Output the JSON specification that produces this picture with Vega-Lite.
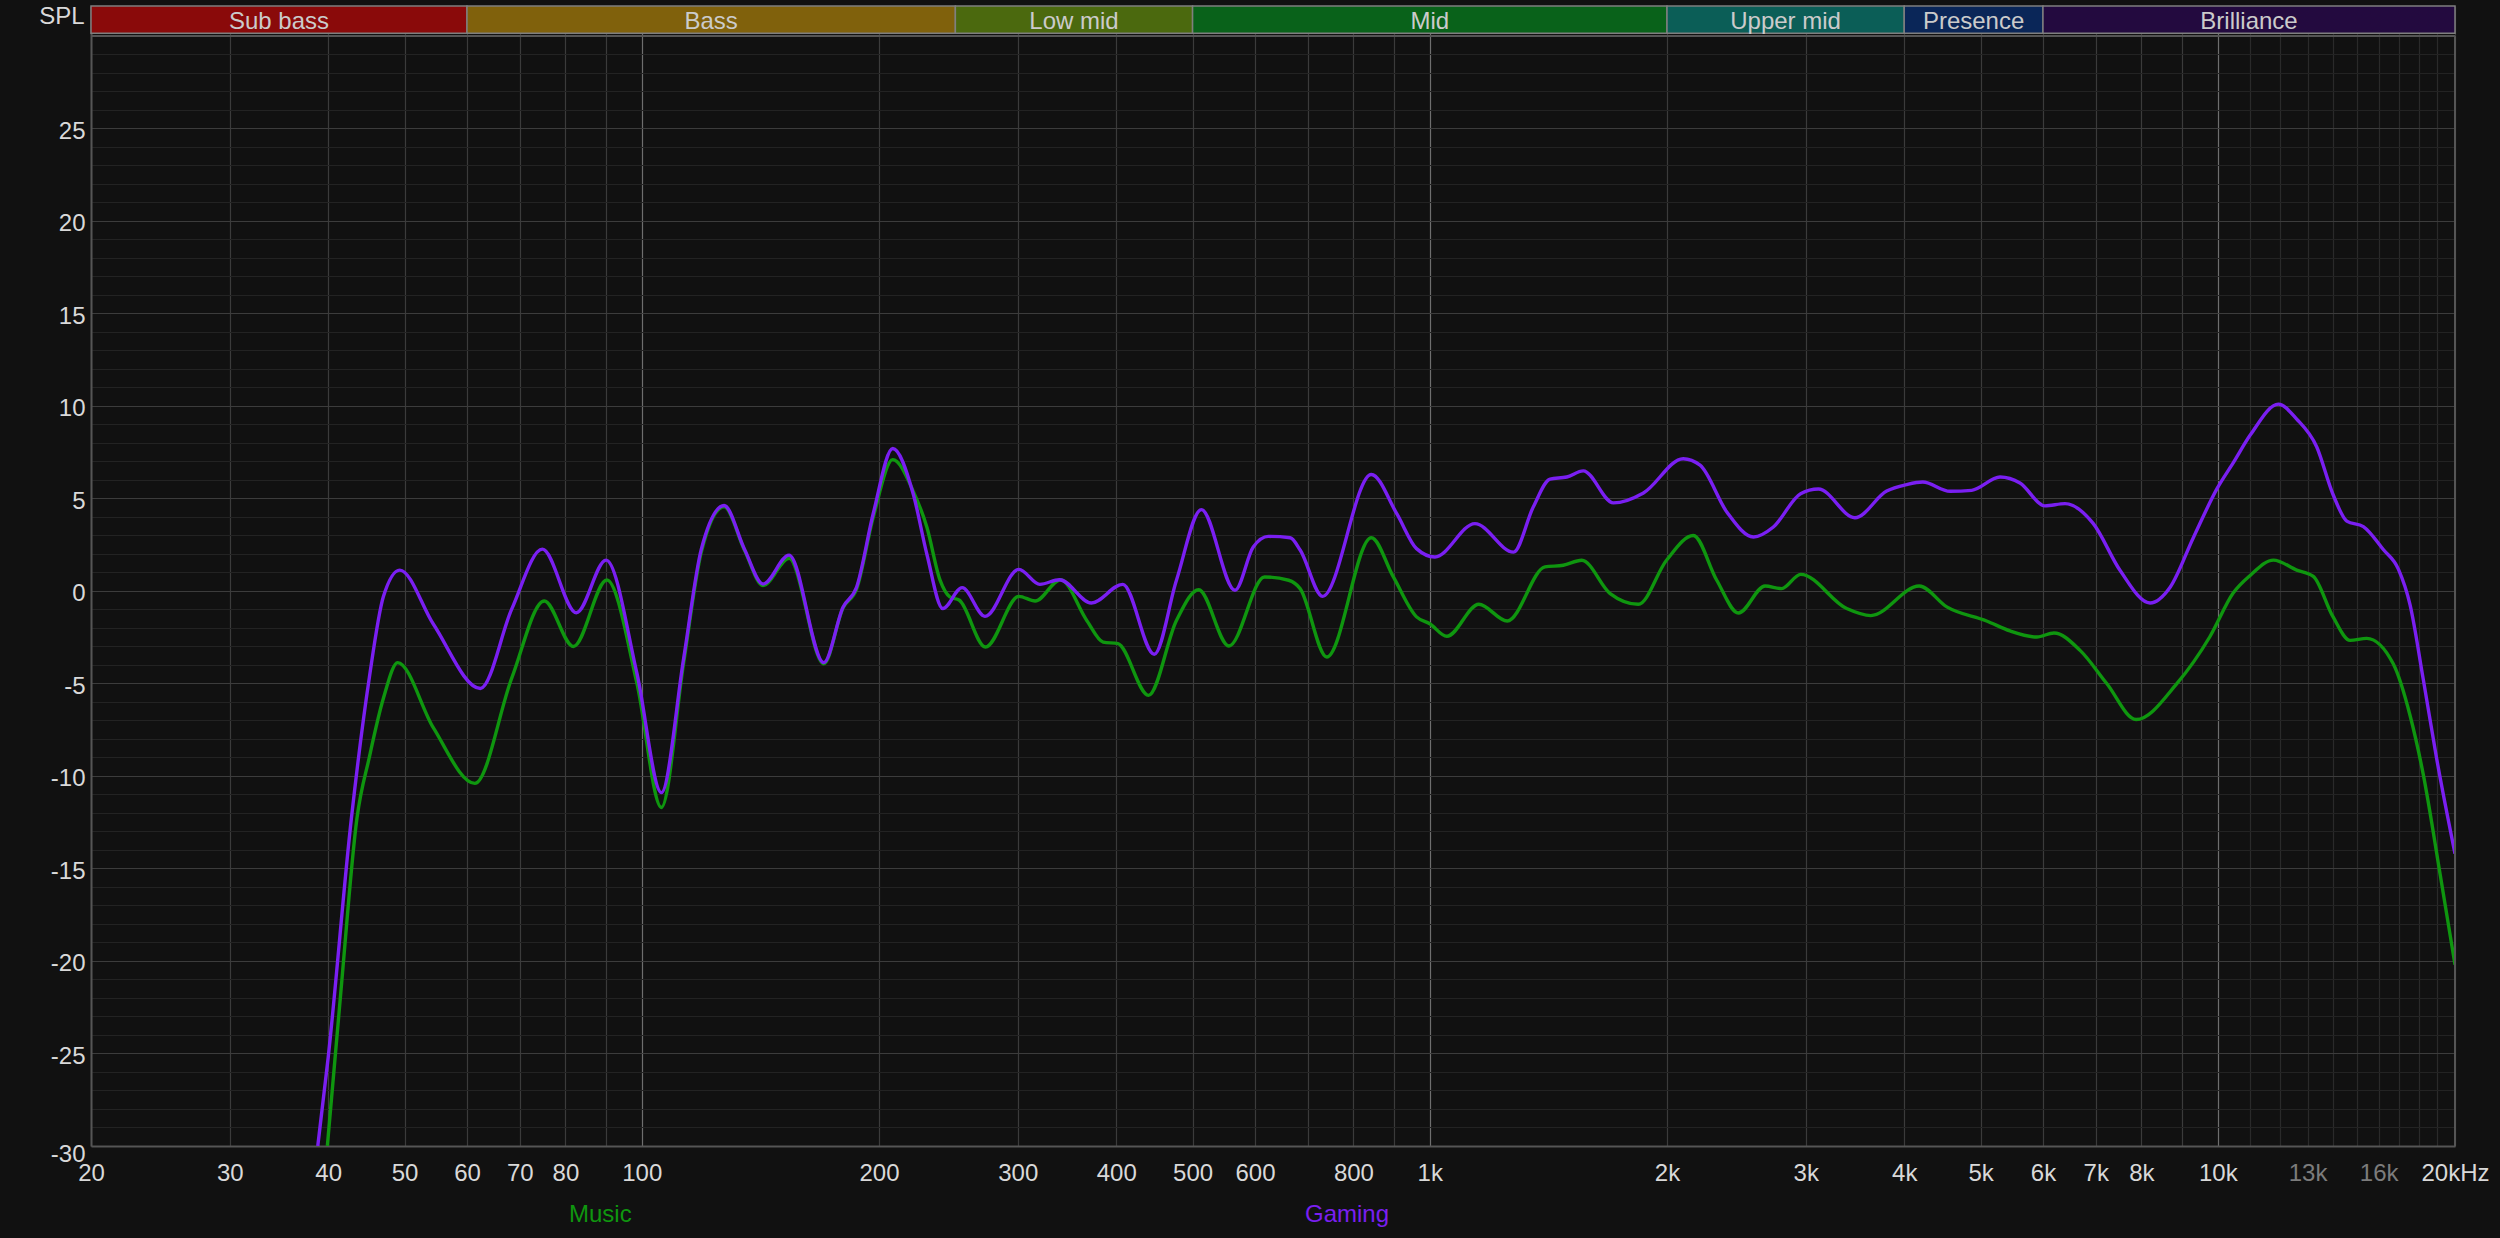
{
  "$schema": "https://vega.github.io/schema/vega-lite/v6.json",
  "autosize": {"type": "none"},
  "padding": {"left": 91, "top": 6, "right": 45, "bottom": 92},
  "width": 2364,
  "height": 1140,
  "background": "#111111",
  "config": {"view": {"stroke": null}, "font": "Liberation Sans"},
  "datasets": {
    "bands": [
      {"band": "Sub bass", "start": 20, "end": 60},
      {"band": "Bass", "start": 60, "end": 250},
      {"band": "Low mid", "start": 250, "end": 500},
      {"band": "Mid", "start": 500, "end": 2000},
      {"band": "Upper mid", "start": 2000, "end": 4000},
      {"band": "Presence", "start": 4000, "end": 6000},
      {"band": "Brilliance", "start": 6000, "end": 20000}
    ],
    "music": [
      {"series": "Music", "freq": 39.9, "db": -30},
      {"series": "Music", "freq": 41.5, "db": -21.7},
      {"series": "Music", "freq": 43.5, "db": -12.3},
      {"series": "Music", "freq": 45.1, "db": -9.0},
      {"series": "Music", "freq": 47.0, "db": -5.8},
      {"series": "Music", "freq": 49.0, "db": -3.87},
      {"series": "Music", "freq": 54.4, "db": -7.4},
      {"series": "Music", "freq": 61.4, "db": -10.4},
      {"series": "Music", "freq": 68.4, "db": -4.7},
      {"series": "Music", "freq": 75.2, "db": -0.54},
      {"series": "Music", "freq": 81.9, "db": -3.0},
      {"series": "Music", "freq": 90.3, "db": 0.59},
      {"series": "Music", "freq": 98.6, "db": -5.0},
      {"series": "Music", "freq": 105.9, "db": -11.7},
      {"series": "Music", "freq": 113, "db": -3.9},
      {"series": "Music", "freq": 119, "db": 2.1},
      {"series": "Music", "freq": 127.2, "db": 4.55},
      {"series": "Music", "freq": 135, "db": 2.2},
      {"series": "Music", "freq": 142.5, "db": 0.3},
      {"series": "Music", "freq": 153.8, "db": 1.77},
      {"series": "Music", "freq": 170.2, "db": -3.93},
      {"series": "Music", "freq": 180.1, "db": -0.9},
      {"series": "Music", "freq": 187.3, "db": 0.1},
      {"series": "Music", "freq": 196.7, "db": 4.0},
      {"series": "Music", "freq": 208.2, "db": 7.1},
      {"series": "Music", "freq": 221, "db": 5.4},
      {"series": "Music", "freq": 230, "db": 3.46},
      {"series": "Music", "freq": 239, "db": 0.6},
      {"series": "Music", "freq": 246, "db": -0.32},
      {"series": "Music", "freq": 253, "db": -0.5},
      {"series": "Music", "freq": 273, "db": -3.03},
      {"series": "Music", "freq": 301, "db": -0.29},
      {"series": "Music", "freq": 315.6, "db": -0.54},
      {"series": "Music", "freq": 340, "db": 0.61},
      {"series": "Music", "freq": 367, "db": -1.59},
      {"series": "Music", "freq": 385, "db": -2.76},
      {"series": "Music", "freq": 402, "db": -2.85},
      {"series": "Music", "freq": 439.6, "db": -5.64},
      {"series": "Music", "freq": 477, "db": -1.59},
      {"series": "Music", "freq": 509, "db": 0.07},
      {"series": "Music", "freq": 556, "db": -2.97},
      {"series": "Music", "freq": 617, "db": 0.76},
      {"series": "Music", "freq": 662, "db": 0.58},
      {"series": "Music", "freq": 684.6, "db": 0.13},
      {"series": "Music", "freq": 740, "db": -3.57},
      {"series": "Music", "freq": 843, "db": 2.88},
      {"series": "Music", "freq": 899, "db": 0.76},
      {"series": "Music", "freq": 962, "db": -1.4},
      {"series": "Music", "freq": 1000, "db": -1.77},
      {"series": "Music", "freq": 1051, "db": -2.45},
      {"series": "Music", "freq": 1154, "db": -0.72},
      {"series": "Music", "freq": 1254, "db": -1.62},
      {"series": "Music", "freq": 1400, "db": 1.3},
      {"series": "Music", "freq": 1477, "db": 1.39},
      {"series": "Music", "freq": 1559, "db": 1.66},
      {"series": "Music", "freq": 1694, "db": -0.14},
      {"series": "Music", "freq": 1839, "db": -0.72},
      {"series": "Music", "freq": 1997, "db": 1.66},
      {"series": "Music", "freq": 2160, "db": 3.0},
      {"series": "Music", "freq": 2313, "db": 0.58},
      {"series": "Music", "freq": 2464, "db": -1.19},
      {"series": "Music", "freq": 2664, "db": 0.27},
      {"series": "Music", "freq": 2796, "db": 0.13},
      {"series": "Music", "freq": 2955, "db": 0.9},
      {"series": "Music", "freq": 3381, "db": -0.95},
      {"series": "Music", "freq": 3628, "db": -1.33},
      {"series": "Music", "freq": 4180, "db": 0.27},
      {"series": "Music", "freq": 4530, "db": -0.86},
      {"series": "Music", "freq": 5089, "db": -1.62},
      {"series": "Music", "freq": 5449, "db": -2.16},
      {"series": "Music", "freq": 5892, "db": -2.49},
      {"series": "Music", "freq": 6196, "db": -2.27},
      {"series": "Music", "freq": 6687, "db": -3.21},
      {"series": "Music", "freq": 7229, "db": -5.0},
      {"series": "Music", "freq": 7877, "db": -6.95},
      {"series": "Music", "freq": 8867, "db": -5.02},
      {"series": "Music", "freq": 9775, "db": -2.46},
      {"series": "Music", "freq": 10465, "db": -0.1},
      {"series": "Music", "freq": 11000, "db": 0.85},
      {"series": "Music", "freq": 11763, "db": 1.67},
      {"series": "Music", "freq": 12594, "db": 1.13},
      {"series": "Music", "freq": 13220, "db": 0.79},
      {"series": "Music", "freq": 14000, "db": -1.39},
      {"series": "Music", "freq": 14720, "db": -2.67},
      {"series": "Music", "freq": 15454, "db": -2.56},
      {"series": "Music", "freq": 16703, "db": -3.95},
      {"series": "Music", "freq": 17539, "db": -6.73},
      {"series": "Music", "freq": 18233, "db": -9.94},
      {"series": "Music", "freq": 19145, "db": -15.28},
      {"series": "Music", "freq": 20000, "db": -20.2}
    ],
    "gaming": [
      {"series": "Gaming", "freq": 38.8, "db": -30},
      {"series": "Gaming", "freq": 40, "db": -25.2},
      {"series": "Gaming", "freq": 42.8, "db": -12.3},
      {"series": "Gaming", "freq": 45.1, "db": -4.7},
      {"series": "Gaming", "freq": 47.0, "db": -0.3},
      {"series": "Gaming", "freq": 49.3, "db": 1.13},
      {"series": "Gaming", "freq": 54.4, "db": -1.8},
      {"series": "Gaming", "freq": 62.4, "db": -5.27},
      {"series": "Gaming", "freq": 68.4, "db": -0.97},
      {"series": "Gaming", "freq": 74.8, "db": 2.26},
      {"series": "Gaming", "freq": 82.6, "db": -1.18},
      {"series": "Gaming", "freq": 90.1, "db": 1.67},
      {"series": "Gaming", "freq": 98.6, "db": -4.46},
      {"series": "Gaming", "freq": 105.9, "db": -10.9},
      {"series": "Gaming", "freq": 113, "db": -3.66},
      {"series": "Gaming", "freq": 119, "db": 2.26},
      {"series": "Gaming", "freq": 127.2, "db": 4.62},
      {"series": "Gaming", "freq": 135, "db": 2.26},
      {"series": "Gaming", "freq": 142.5, "db": 0.38},
      {"series": "Gaming", "freq": 153.8, "db": 1.94},
      {"series": "Gaming", "freq": 170.2, "db": -3.87},
      {"series": "Gaming", "freq": 180.1, "db": -0.86},
      {"series": "Gaming", "freq": 187.3, "db": 0.2},
      {"series": "Gaming", "freq": 196.7, "db": 4.2},
      {"series": "Gaming", "freq": 208.2, "db": 7.7},
      {"series": "Gaming", "freq": 221, "db": 5.26},
      {"series": "Gaming", "freq": 230, "db": 2.0},
      {"series": "Gaming", "freq": 241, "db": -0.95},
      {"series": "Gaming", "freq": 255, "db": 0.18},
      {"series": "Gaming", "freq": 272.6, "db": -1.37},
      {"series": "Gaming", "freq": 301, "db": 1.17},
      {"series": "Gaming", "freq": 320, "db": 0.36},
      {"series": "Gaming", "freq": 339, "db": 0.61},
      {"series": "Gaming", "freq": 372, "db": -0.65},
      {"series": "Gaming", "freq": 407.7, "db": 0.36},
      {"series": "Gaming", "freq": 447, "db": -3.42},
      {"series": "Gaming", "freq": 477, "db": 0.58},
      {"series": "Gaming", "freq": 513, "db": 4.4},
      {"series": "Gaming", "freq": 566, "db": 0.04},
      {"series": "Gaming", "freq": 597, "db": 2.38},
      {"series": "Gaming", "freq": 624, "db": 2.95},
      {"series": "Gaming", "freq": 665, "db": 2.88},
      {"series": "Gaming", "freq": 685, "db": 2.2},
      {"series": "Gaming", "freq": 731, "db": -0.29},
      {"series": "Gaming", "freq": 843, "db": 6.3},
      {"series": "Gaming", "freq": 908, "db": 4.18},
      {"series": "Gaming", "freq": 962, "db": 2.29},
      {"series": "Gaming", "freq": 1015, "db": 1.84},
      {"series": "Gaming", "freq": 1141, "db": 3.64},
      {"series": "Gaming", "freq": 1277, "db": 2.1},
      {"series": "Gaming", "freq": 1353, "db": 4.54},
      {"series": "Gaming", "freq": 1421, "db": 6.05},
      {"series": "Gaming", "freq": 1492, "db": 6.16},
      {"series": "Gaming", "freq": 1566, "db": 6.49},
      {"series": "Gaming", "freq": 1710, "db": 4.76},
      {"series": "Gaming", "freq": 1867, "db": 5.3},
      {"series": "Gaming", "freq": 2097, "db": 7.15},
      {"series": "Gaming", "freq": 2203, "db": 6.8},
      {"series": "Gaming", "freq": 2382, "db": 4.27},
      {"series": "Gaming", "freq": 2575, "db": 2.92},
      {"series": "Gaming", "freq": 2729, "db": 3.46},
      {"series": "Gaming", "freq": 2955, "db": 5.26},
      {"series": "Gaming", "freq": 3113, "db": 5.51},
      {"series": "Gaming", "freq": 3463, "db": 3.96},
      {"series": "Gaming", "freq": 3800, "db": 5.4},
      {"series": "Gaming", "freq": 4028, "db": 5.75},
      {"series": "Gaming", "freq": 4222, "db": 5.89},
      {"series": "Gaming", "freq": 4573, "db": 5.39},
      {"series": "Gaming", "freq": 4872, "db": 5.44},
      {"series": "Gaming", "freq": 5293, "db": 6.16},
      {"series": "Gaming", "freq": 5610, "db": 5.84},
      {"series": "Gaming", "freq": 6034, "db": 4.6},
      {"series": "Gaming", "freq": 6400, "db": 4.72},
      {"series": "Gaming", "freq": 6951, "db": 3.64},
      {"series": "Gaming", "freq": 7514, "db": 1.12},
      {"series": "Gaming", "freq": 8204, "db": -0.65},
      {"series": "Gaming", "freq": 8700, "db": 0.2},
      {"series": "Gaming", "freq": 9310, "db": 2.88},
      {"series": "Gaming", "freq": 9986, "db": 5.56},
      {"series": "Gaming", "freq": 10465, "db": 6.94},
      {"series": "Gaming", "freq": 11000, "db": 8.44},
      {"series": "Gaming", "freq": 11938, "db": 10.1},
      {"series": "Gaming", "freq": 12594, "db": 9.29},
      {"series": "Gaming", "freq": 13349, "db": 7.8},
      {"series": "Gaming", "freq": 14000, "db": 5.23},
      {"series": "Gaming", "freq": 14578, "db": 3.78},
      {"series": "Gaming", "freq": 15302, "db": 3.48},
      {"series": "Gaming", "freq": 16219, "db": 2.24},
      {"series": "Gaming", "freq": 16950, "db": 1.18},
      {"series": "Gaming", "freq": 17539, "db": -0.75},
      {"series": "Gaming", "freq": 18233, "db": -4.8},
      {"series": "Gaming", "freq": 18960, "db": -9.08},
      {"series": "Gaming", "freq": 20000, "db": -14.2}
    ]
  },
  "layer": [
    {
      "data": {"name": "music"},
      "mark": {"type": "line", "interpolate": "monotone", "strokeWidth": 3.4, "clip": true},
      "encoding": {
        "x": {
          "field": "freq", "type": "quantitative", "title": null,
          "scale": {"type": "log", "domain": [20, 20000], "nice": false},
          "axis": {
            "title": null,
            "tickCount": 200,
            "values": [20, 30, 40, 50, 60, 70, 80, 90, 100, 200, 300, 400, 500, 600, 700, 800, 900, 1000, 2000, 3000, 4000, 5000, 6000, 7000, 8000, 9000, 10000, 11000, 12000, 13000, 14000, 15000, 16000, 17000, 18000, 19000, 20000],
            "labelExpr": "indexof([90,700,900,9000,11000,12000,14000,15000,17000,18000,19000], datum.value) >= 0 ? '' : (datum.value == 20000 ? '20kHz' : (datum.value >= 1000 ? (datum.value / 1000) + 'k' : '' + datum.value))",
            "labelOverlap": false,
            "labelFlush": false,
            "labelFont": "Liberation Sans",
            "labelFontSize": 24,
            "labelColor": {"condition": {"test": "datum.value == 13000 || datum.value == 16000", "value": "#7c7c7c"}, "value": "#d9d9d9"},
            "labelPadding": 15,
            "labelBaseline": "top",
            "ticks": false,
            "domainColor": "#555555",
            "domainWidth": 2,
            "grid": true,
            "gridColor": {"condition": [{"test": "datum.value == 100 || datum.value == 1000 || datum.value == 10000", "value": "#6e6e6e"}, {"test": "datum.value > 10000 && datum.value < 20000", "value": "#2a2a2a"}], "value": "#3b3b3b"},
            "gridWidth": 1.2
          }
        },
        "y": {
          "field": "db", "type": "quantitative", "title": "SPL",
          "scale": {"domain": [-30, 31.62], "nice": false, "zero": false},
          "axis": {
            "title": "SPL",
            "titleAngle": 0,
            "titleAlign": "right",
            "titleBaseline": "top",
            "titleX": -7,
            "titleY": -2,
            "titleFont": "Liberation Sans",
            "titleFontSize": 24,
            "titleFontWeight": "normal",
            "titleColor": "#d9d9d9",
            "tickCount": 200,
            "values": [-30, -29, -28, -27, -26, -25, -24, -23, -22, -21, -20, -19, -18, -17, -16, -15, -14, -13, -12, -11, -10, -9, -8, -7, -6, -5, -4, -3, -2, -1, 0, 1, 2, 3, 4, 5, 6, 7, 8, 9, 10, 11, 12, 13, 14, 15, 16, 17, 18, 19, 20, 21, 22, 23, 24, 25, 26, 27, 28, 29, 30],
            "labelExpr": "(datum.value % 5 == 0 && datum.value < 30) ? '' + datum.value : ''",
            "labelOverlap": false,
            "labelFlush": false,
            "labelFont": "Liberation Sans",
            "labelFontSize": 24,
            "labelColor": "#d9d9d9",
            "labelPadding": 6,
            "labelBaseline": {"condition": {"test": "datum.value == -30", "value": "top"}, "value": "middle"},
            "labelOffset": {"condition": {"test": "datum.value == -30", "value": -4}, "value": 3},
            "ticks": false,
            "domainColor": "#555555",
            "domainWidth": 2,
            "grid": true,
            "gridColor": {"condition": {"test": "datum.value % 5 == 0", "value": "#3c3c3c"}, "value": "#232323"},
            "gridWidth": 1.2
          }
        },
        "stroke": {
          "field": "series", "type": "nominal",
          "scale": {"domain": ["Music", "Gaming"], "range": ["#0f960f", "#7a1ff2"]},
          "legend": {
            "title": null, "orient": "none", "legendX": 454, "legendY": 1197,
            "direction": "horizontal", "symbolSize": 0, "symbolOpacity": 0, "symbolStrokeWidth": 0,
            "labelOffset": 0, "columnPadding": 649, "labelFont": "Liberation Sans", "labelFontSize": 24,
            "encode": {"labels": {"update": {"fill": {"scale": "stroke", "field": "value"}}}}
          }
        }
      }
    },
    {
      "data": {"name": "gaming"},
      "mark": {"type": "line", "interpolate": "monotone", "strokeWidth": 3.4, "clip": true},
      "encoding": {
        "x": {"field": "freq", "type": "quantitative", "title": null},
        "y": {"field": "db", "type": "quantitative", "title": "SPL"},
        "stroke": {
          "field": "series", "type": "nominal",
          "legend": {
            "title": null, "orient": "none", "legendX": 454, "legendY": 1197,
            "direction": "horizontal", "symbolSize": 0, "symbolOpacity": 0, "symbolStrokeWidth": 0,
            "labelOffset": 0, "columnPadding": 649, "labelFont": "Liberation Sans", "labelFontSize": 24,
            "encode": {"labels": {"update": {"fill": {"scale": "stroke", "field": "value"}}}}
          }
        }
      }
    },
    {
      "data": {"name": "bands"},
      "mark": {"type": "rect", "stroke": "#7f7f7f", "strokeWidth": 1.5},
      "encoding": {
        "x": {"field": "start", "type": "quantitative", "title": null},
        "x2": {"field": "end"},
        "y": {"datum": 30.15, "type": "quantitative", "title": "SPL"},
        "y2": {"datum": 31.62},
        "fill": {
          "field": "band", "type": "nominal", "legend": null,
          "scale": {
            "domain": ["Sub bass", "Bass", "Low mid", "Mid", "Upper mid", "Presence", "Brilliance"],
            "range": ["#8a0a0a", "#80610c", "#4b690e", "#09621a", "#0b5e57", "#0a2658", "#230a3f"]
          }
        }
      }
    },
    {
      "data": {"name": "bands"},
      "transform": [{"calculate": "sqrt(datum.start * datum.end)", "as": "mid"}],
      "mark": {"type": "text", "font": "Liberation Sans", "fontSize": 24, "color": "#cbcbcb", "baseline": "middle", "align": "center", "dy": 2},
      "encoding": {
        "x": {"field": "mid", "type": "quantitative", "title": null},
        "y": {"datum": 30.885, "type": "quantitative", "title": "SPL"},
        "text": {"field": "band"}
      }
    },
    {
      "data": {"values": [{}]},
      "mark": {"type": "rule", "color": "#555555", "strokeWidth": 2},
      "encoding": {
        "x": {"datum": 20, "type": "quantitative", "title": null},
        "x2": {"datum": 20000},
        "y": {"datum": 30, "type": "quantitative", "title": "SPL"}
      }
    },
    {
      "data": {"values": [{}]},
      "mark": {"type": "rule", "color": "#555555", "strokeWidth": 2},
      "encoding": {
        "x": {"datum": 20000, "type": "quantitative", "title": null},
        "y": {"datum": -30, "type": "quantitative", "title": "SPL"},
        "y2": {"datum": 30}
      }
    }
  ]
}
